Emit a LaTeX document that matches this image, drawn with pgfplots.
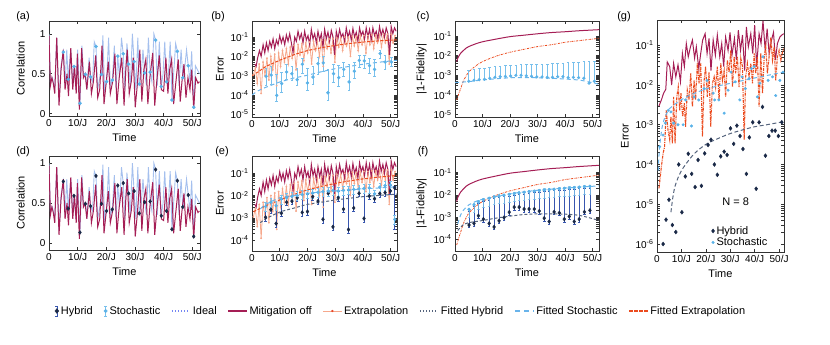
\documentclass[border=0pt]{standalone}
\usepackage{fontspec}
\setmainfont{Liberation Sans}
\usepackage{pgfplots}
\usepackage{pgfplotstable}
\pgfplotsset{compat=1.18}

\definecolor{mitig}{RGB}{165,30,85}
\definecolor{ideal}{RGB}{165,192,238}
\definecolor{stoch}{RGB}{90,178,232}
\definecolor{stochbar}{RGB}{120,192,236}
\definecolor{hybrid}{RGB}{25,40,70}
\definecolor{hybbar}{RGB}{55,85,175}
\definecolor{extrap}{RGB}{246,168,140}
\definecolor{extrapdot}{RGB}{230,70,40}
\definecolor{fitext}{RGB}{235,75,30}
\definecolor{fithyb}{RGB}{85,100,125}
\definecolor{fitsto}{RGB}{105,180,235}

% correlation, ideal evolution
\pgfplotstableread{
t v
0 1.0
0.5 0.4
1.2 0.45
2.0 0.3
2.7 0.95
3.5 0.15
4.2 0.6
5.0 0.77
5.6 0.35
6.2 0.8
6.7 0.43
7.6 0.8
8.2 0.35
8.7 0.59
9.4 0.3
10.0 0.8
10.8 0.13
11.5 0.85
12.1 0.45
12.7 0.49
13.3 0.35
14.0 0.7
14.5 0.46
15.2 0.4
15.8 0.9
16.4 0.84
17.0 0.3
17.7 0.45
18.3 0.49
18.8 0.98
19.4 0.3
20.1 0.40
20.8 0.95
21.4 0.35
22.1 0.42
22.8 0.85
23.4 0.3
24.0 0.72
24.6 0.45
25.3 0.95
25.9 0.75
26.5 0.3
27.2 0.88
27.8 0.62
28.4 0.35
29.1 1.0
29.7 0.65
30.3 0.3
31.0 0.95
31.5 0.37
32.2 0.5
32.8 0.8
33.4 0.51
34.0 0.35
34.7 0.95
35.3 0.52
35.9 0.4
36.6 1.0
37.2 0.92
37.8 0.35
38.5 0.9
39.2 0.34
39.8 0.5
40.4 0.9
41.0 0.40
41.6 0.45
42.3 0.9
42.9 0.17
43.6 0.55
44.2 0.88
44.8 0.78
45.4 0.35
46.1 0.8
46.7 0.45
47.3 0.55
48.0 0.8
48.6 0.60
49.2 0.4
49.8 0.78
50.5 0.08
51.1 0.6
51.8 0.55
52.5 0.5
}\corrideal

% correlation, mitigation off
\pgfplotstableread{
t v
0 0.97
0.5 0.35
1.0 0.45
1.5 0.38
2.0 0.25
2.7 0.95
3.5 0.1
4.2 0.55
5.0 0.8
5.6 0.3
6.3 0.5
6.8 0.22
7.6 0.82
8.3 0.3
8.9 0.6
9.5 0.25
9.9 0.75
10.6 0.05
11.4 0.82
12.0 0.45
12.6 0.5
13.2 0.3
14.1 0.65
14.8 0.25
15.5 0.4
16.3 0.73
17.0 0.2
17.7 0.3
18.5 0.85
19.2 0.12
20.0 0.4
20.7 0.65
21.4 0.25
22.2 0.4
23.0 0.75
23.7 0.12
24.5 0.45
25.4 0.7
26.2 0.1
26.8 0.55
27.3 0.8
28.0 0.25
28.7 0.4
29.4 0.7
30.1 0.08
30.8 0.35
31.7 0.8
32.4 0.15
33.1 0.55
33.8 0.68
34.5 0.12
35.2 0.45
36.2 0.76
36.9 0.1
37.6 0.4
38.5 0.73
39.2 0.3
40.0 0.28
40.8 0.7
41.5 0.25
42.1 0.55
42.8 0.68
43.5 0.12
44.3 0.4
45.1 0.68
45.8 0.15
46.4 0.4
47.1 0.62
47.8 0.2
48.5 0.45
49.2 0.3
49.8 0.55
50.5 0.06
51.2 0.45
52.0 0.38
52.5 0.4
}\corroff

% correlation, sampled points
\pgfplotstableread{
t v
5.0 0.77
6.7 0.43
8.7 0.59
10.8 0.13
12.7 0.49
14.5 0.46
16.4 0.84
18.3 0.49
20.1 0.40
22.1 0.42
24.0 0.72
25.9 0.75
27.8 0.62
29.7 0.65
31.5 0.37
33.4 0.51
35.3 0.52
37.2 0.92
39.2 0.34
41.0 0.40
42.9 0.17
44.8 0.78
46.7 0.45
48.6 0.60
50.5 0.08
}\corrpts

% error, mitigation off
\pgfplotstableread{
t v
1.0 4e-3
1.5 3e-3
2.0 8e-3
2.7 2e-2
3.3 1e-2
4.0 4e-2
4.6 1.5e-2
5.2 5e-2
5.8 2e-2
6.4 6e-2
7.0 3e-2
7.6 8e-2
8.2 2.5e-2
8.8 7e-2
9.4 4e-2
10.0 1.2e-1
10.6 5e-2
11.2 1e-1
11.8 4e-2
12.4 1.3e-1
13.0 6e-2
13.6 1.5e-1
14.2 5e-2
14.8 1.6e-2
15.4 1e-1
16.0 6e-2
16.6 2e-1
17.2 8e-2
17.8 1.5e-1
18.4 5e-2
19.0 2e-1
19.6 7e-2
20.2 1.2e-1
20.8 4e-2
21.4 2.5e-1
22.0 8e-2
22.6 1.5e-1
23.2 5e-2
23.8 2e-1
24.4 7e-2
25.0 1.5e-1
25.6 3e-2
26.2 2.5e-1
26.8 8e-2
27.4 1.8e-1
28.0 6e-2
28.6 2.2e-1
29.2 1e-1
29.8 1.2e-2
30.4 2e-1
31.0 8e-2
31.6 2.5e-1
32.2 1e-1
32.8 1.5e-1
33.4 6e-2
34.0 3e-1
34.6 1e-1
35.2 2e-1
35.8 7e-2
36.4 2.8e-1
37.0 1e-1
37.6 1.8e-1
38.2 6e-2
38.8 3e-1
39.4 1.2e-1
40.0 2e-1
40.6 8e-2
41.2 3e-1
41.8 1e-1
42.4 2.5e-1
43.0 7e-2
43.6 3e-1
44.2 1.2e-1
44.8 2e-1
45.4 8e-2
46.0 3.5e-1
46.6 1.2e-1
47.2 2.5e-1
47.8 1e-1
48.4 3e-1
49.0 1.5e-1
49.6 1.2e-2
50.2 3.5e-1
50.8 1.5e-1
51.4 3e-1
52.0 2e-1
}\erroff

% error, extrapolation (raw)
\pgfplotstableread{
t v
0.5 1.1e-3
1.2 2.5e-3
1.9 4e-4
2.6 4e-3
3.3 1.2e-4
4.0 5e-3
4.7 1e-3
5.4 8e-3
6.1 6e-4
6.8 1e-2
7.5 2e-3
8.2 1.3e-2
8.9 3e-4
9.6 1.5e-2
10.3 3e-3
11.0 2e-2
11.7 5e-3
12.4 2.5e-2
13.1 4e-3
13.8 3e-2
14.5 8e-3
15.2 3.5e-2
15.9 2e-3
16.6 4e-2
17.3 1.2e-2
18.0 4.5e-2
18.7 6e-3
19.4 5e-2
20.1 1.5e-2
20.8 5.5e-2
21.5 4e-3
22.2 6e-2
22.9 2e-2
23.6 6e-2
24.3 1e-2
25.0 7e-2
25.7 3e-3
26.4 7e-2
27.1 2.5e-2
27.8 8e-2
28.5 1.5e-2
29.2 8e-2
29.9 5e-3
30.6 9e-2
31.3 3e-2
32.0 9e-2
32.7 2e-2
33.4 1e-1
34.1 3.5e-2
34.8 1e-1
35.5 1e-2
36.2 1.1e-1
36.9 3.5e-2
37.6 1.1e-1
38.3 2e-2
39.0 1.2e-1
39.7 4e-2
40.4 1.2e-1
41.1 1.5e-2
41.8 1.2e-1
42.5 4e-2
43.2 1.3e-1
43.9 2.5e-2
44.6 1.3e-1
45.3 5e-2
46.0 1.3e-1
46.7 3e-2
47.4 1.4e-1
48.1 5e-2
48.8 1.4e-1
49.5 4e-3
50.2 1.4e-1
50.9 5e-2
51.6 1.2e-1
}\errextrap

% |1-fidelity|, mitigation off
\pgfplotstableread{
t v
0.6 5e-3
1 7.5e-3
2 1.3e-2
3 1.8e-2
4 2.4e-2
5 2.9e-2
7.5 4e-2
10 5.1e-2
15 7e-2
20 9.3e-2
25 1.1e-1
30 1.3e-1
35 1.5e-1
40 1.65e-1
45 1.85e-1
52.3 2.1e-1
}\fidoff

% |1-fidelity|, extrapolation
\pgfplotstableread{
t v
0.6 5.6e-5
1 8e-5
1.5 1.3e-4
2 2e-4
3 5e-4
4 9e-4
5 1.5e-3
7.5 3e-3
10 5e-3
15 9.5e-3
20 1.5e-2
25 2.1e-2
30 2.9e-2
35 3.6e-2
40 4.8e-2
45 5.8e-2
52.3 7.6e-2
}\fidextrap

\pgfplotsset{
  panel/.style={
    scale only axis, anchor=north west,
    xmin=0, xmax=52.3,
    xtick={0,10,20,30,40,50},
    xticklabels={0,10/J,20/J,30/J,40/J,50/J},
    xlabel={Time},
    ticklabel style={font=\fontsize{10}{12}\selectfont},
    label style={font=\fontsize{11}{13}\selectfont},
    axis line style={black!80, line width=0.5pt},
    tick style={black!80, line width=0.5pt},
    major tick length=3pt,
    /pgf/number format/assume math mode=true,
  },
  errbar/.style={error bars/.cd, y dir=both, y explicit,
    error bar style={#1, line width=0.6pt},
    error mark options={rotate=90, #1, mark size=1.3pt, line width=0.6pt}},
}

\begin{document}
\begin{tikzpicture}
\path[use as bounding box] (0pt,0pt) rectangle (830pt,-345pt);

% ---------- (a)
\begin{axis}[panel, at={(49pt,-21pt)}, width=151pt, height=95pt,
  xmax=52.7, ymin=-0.03, ymax=1.16, ytick={0,0.5,1}, yticklabels={0,0.5,1},
  ylabel={Correlation}]
\addplot[ideal, line width=0.9pt] table[x=t,y=v] {\corrideal};
\addplot[mitig, line width=1pt] table[x=t,y=v] {\corroff};
\addplot[only marks, mark=*, mark size=1.6pt, stoch] table[x=t,y=v] {\corrpts};
\end{axis}

% ---------- (b)
\begin{axis}[panel, at={(252pt,-21pt)}, width=145pt, height=96pt,
  ymode=log, ymin=7.2e-6, ymax=0.68,
  ytick={1e-5,1e-4,1e-3,1e-2,1e-1},
  yticklabels={10\textsuperscript{-5},10\textsuperscript{-4},10\textsuperscript{-3},10\textsuperscript{-2},10\textsuperscript{-1}},
  ylabel={Error}]
\addplot[extrap, line width=0.8pt, mark=*, mark size=0.45pt, mark options={fill=extrapdot, draw=none}] table[x=t,y=v] {\errextrap};
\addplot[mitig, line width=1pt] table[x=t,y=v] {\erroff};
\addplot[fitext, line width=1pt, dash pattern=on 3pt off 1.5pt] coordinates {
(0,1e-3) (2,1.5e-3) (5,3e-3) (10,6.3e-3) (15,1.2e-2) (20,2e-2) (25,2.8e-2) (30,3.7e-2) (35,4.6e-2) (40,5.5e-2) (46,6.4e-2) (52.3,7.2e-2)};
\addplot[fitsto, line width=1pt, dash pattern=on 4pt off 3pt] coordinates {
(0,1e-4) (2,1.6e-4) (5,2.5e-4) (10,4.7e-4) (15,7.5e-4) (20,1.05e-3) (25,1.6e-3) (30,2.3e-3) (35,3e-3) (40,3.9e-3) (46,5e-3) (52.3,6.3e-3)};
\addplot[only marks, mark=*, mark size=1.5pt, stoch, errbar=stochbar] table[x=t,y=v,y error plus=ep,y error minus=em] {
t v ep em
5.1 9.3e-4 1.6e-3 6e-4
6.9 1.07e-3 2e-3 7e-4
8.9 9.5e-5 1.1e-3 5e-5
10.7 3.9e-4 1.1e-3 2.5e-4
12.5 1.55e-3 2.5e-3 9e-4
14.4 1.26e-3 1.7e-3 7e-4
16.3 6.2e-4 1.9e-3 3e-4
18.2 3.9e-3 4.1e-3 2.5e-3
20.0 4.2e-4 2.1e-3 2.5e-4
22.0 8.5e-4 2.2e-3 5e-4
23.8 4.2e-3 4.8e-3 3e-3
25.7 4.6e-3 5.4e-3 3e-3
27.4 1.3e-4 1.9e-3 8e-5
29.4 1.26e-3 2.7e-3 8e-4
31.3 7.9e-4 2.7e-3 5e-4
33.1 2.1e-3 2.9e-3 1.2e-3
35.0 4.7e-4 3.5e-3 3e-4
36.9 1.7e-3 3.3e-3 1e-3
38.7 6.2e-3 5.8e-3 3.5e-3
40.5 5.8e-3 5.2e-3 3.5e-3
42.4 3.3e-3 4.7e-3 2e-3
44.2 2.1e-3 4.9e-3 1.2e-3
46.2 1.4e-2 6e-3 6e-3
48.0 5.1e-3 5.9e-3 3e-3
50.3 5e-3 4e-3 2e-3
};
\end{axis}

% ---------- (c)
\begin{axis}[panel, at={(455pt,-21pt)}, width=144pt, height=96pt,
  ymode=log, ymin=7.6e-6, ymax=0.58,
  ytick={1e-5,1e-4,1e-3,1e-2,1e-1},
  yticklabels={10\textsuperscript{-5},10\textsuperscript{-4},10\textsuperscript{-3},10\textsuperscript{-2},10\textsuperscript{-1}},
  ylabel={|1-Fidelity|}]
\addplot[mitig, line width=1pt, smooth] table[x=t,y=v] {\fidoff};
\addplot[fitext, line width=0.8pt, dash pattern=on 2pt off 1pt on 0.5pt off 1pt, smooth] table[x=t,y=v] {\fidextrap};
\addplot[fitsto, line width=1pt, dash pattern=on 4pt off 3pt, smooth] coordinates {
(0,4.3e-4) (5,4.8e-4) (10,5.8e-4) (20,7.5e-4) (30,7.5e-4) (40,6.5e-4) (46,5.5e-4) (52.3,3.5e-4)};
\addplot[only marks, mark=*, mark size=1.4pt, stoch, error bars/.cd, y dir=plus, y explicit,
  error bar style={stochbar, line width=0.6pt},
  error mark options={rotate=90, stochbar, mark size=1.3pt, line width=0.6pt}]
  table[x=t,y=v,y error plus=ep] {
t v ep
5.0 5.0e-4 1.28e-3
6.9 5.6e-4 1.44e-3
8.8 6.0e-4 1.64e-3
10.7 6.3e-4 1.77e-3
12.6 7.1e-4 1.92e-3
14.5 7.9e-4 2.03e-3
16.4 8.5e-4 2.15e-3
18.3 8.9e-4 2.27e-3
20.2 9.3e-4 2.37e-3
22.1 1.0e-3 2.4e-3
24.0 1.0e-3 2.5e-3
25.9 9.5e-4 2.6e-3
27.8 8.9e-4 2.66e-3
29.7 8.3e-4 2.8e-3
31.6 8.3e-4 2.9e-3
33.5 7.9e-4 3.0e-3
35.4 7.9e-4 3.2e-3
37.3 8.5e-4 3.15e-3
39.2 8.5e-4 3.35e-3
41.1 7.6e-4 3.6e-3
43.0 7.9e-4 3.7e-3
44.9 7.6e-4 3.9e-3
46.8 7.1e-4 4.3e-3
48.7 4.0e-4 4.6e-3
50.6 5.0e-4 4.7e-3
};
\end{axis}

% ---------- (d)
\begin{axis}[panel, at={(49pt,-156pt)}, width=151pt, height=94pt,
  xmax=52.7, ymin=-0.09, ymax=1.09, ytick={0,0.5,1}, yticklabels={0,0.5,1},
  ylabel={Correlation}]
\addplot[ideal, line width=0.9pt] table[x=t,y=v] {\corrideal};
\addplot[mitig, line width=1pt] table[x=t,y=v] {\corroff};
\addplot[only marks, mark=diamond*, mark size=1.9pt, hybrid] table[x=t,y=v] {\corrpts};
\end{axis}

% ---------- (e)
\begin{axis}[panel, at={(252pt,-156pt)}, width=145pt, height=95pt,
  ymode=log, ymin=3.2e-5, ymax=0.6,
  ytick={1e-4,1e-3,1e-2,1e-1},
  yticklabels={10\textsuperscript{-4},10\textsuperscript{-3},10\textsuperscript{-2},10\textsuperscript{-1}},
  ylabel={Error}]
\addplot[extrap, line width=0.8pt, mark=*, mark size=0.45pt, mark options={fill=extrapdot, draw=none}] table[x=t,y=v] {\errextrap};
\addplot[mitig, line width=1pt] table[x=t,y=v] {\erroff};
\addplot[fitext, line width=1pt, dash pattern=on 3pt off 1.5pt] coordinates {
(0.5,1.9e-3) (2,2.3e-3) (5,3.5e-3) (10,6.3e-3) (15,1.1e-2) (20,1.8e-2) (25,2.6e-2) (30,3.5e-2) (35,4.5e-2) (40,5.6e-2) (46,6.8e-2) (52.3,8e-2)};
\addplot[only marks, mark=diamond*, mark size=1.9pt, hybrid, errbar=hybbar] table[x=t,y=v,y error plus=ep,y error minus=em] {
t v ep em
4.9 1.05e-3 2.1e-3 3.2e-4
6.8 2.3e-3 2.7e-3 7e-4
8.7 5.5e-4 2.9e-3 1.7e-4
10.6 1.6e-3 5.4e-3 4.8e-4
12.5 5e-3 3e-3 1.5e-3
14.4 5.6e-3 3.4e-3 1.7e-3
16.3 7.9e-3 2.1e-3 2.4e-3
18.1 1.74e-3 9.3e-3 5.2e-4
20.0 1.9e-3 1e-2 5.7e-4
21.9 8.9e-3 4.1e-3 2.7e-3
23.8 5.6e-3 8.4e-3 1.7e-3
25.6 8.5e-4 1.4e-2 2.6e-4
27.5 1.26e-2 3.4e-3 3.8e-3
29.2 3.9e-4 1.66e-2 1.2e-4
31.1 7.9e-3 8.1e-3 2.4e-3
33.0 2.45e-3 1.45e-2 7.4e-4
34.8 2.95e-4 1.77e-2 8.9e-5
36.7 2.75e-3 1.6e-2 8.3e-4
38.6 1.26e-2 7.4e-3 3.8e-3
40.4 9.3e-4 2e-2 2.8e-4
42.3 9.5e-3 1.25e-2 2.9e-3
44.2 7.2e-3 4.8e-3 2.2e-3
46.1 1.23e-2 1.2e-2 3.7e-3
48.0 1.35e-2 1.45e-2 4e-3
49.9 1.6e-2 1.4e-2 4.8e-3
51.5 2.2e-2 5e-3 2.17e-2
};
\addplot[only marks, mark=*, mark size=1.5pt, stoch, errbar=stochbar] table[x=t,y=v,y error plus=ep,y error minus=em] {
t v ep em
4.9 3.2e-3 1.6e-3 1.3e-3
6.8 5e-3 2.5e-3 2e-3
8.7 3.5e-3 1.8e-3 1.4e-3
10.6 7e-3 3.5e-3 2.8e-3
12.5 8e-3 4e-3 3.2e-3
14.4 9e-3 4.5e-3 3.6e-3
16.3 1e-2 5e-3 4e-3
18.1 1.1e-2 5.5e-3 4.4e-3
20.0 1.2e-2 6e-3 4.8e-3
21.9 1.3e-2 6.5e-3 5.2e-3
23.8 1.4e-2 7e-3 5.6e-3
25.6 1.5e-2 7.5e-3 6e-3
27.5 1.6e-2 8e-3 6.4e-3
29.2 1.7e-2 8.5e-3 6.8e-3
31.1 1.6e-2 8e-3 6.4e-3
33.0 1.7e-2 8.5e-3 6.8e-3
34.8 1.8e-2 9e-3 7.2e-3
36.7 1.9e-2 9.5e-3 7.6e-3
38.6 2e-2 1e-2 8e-3
40.4 2.1e-2 1.05e-2 8.4e-3
42.3 2.2e-2 1.1e-2 8.8e-3
44.2 1.2e-2 6e-3 4.8e-3
46.1 2.4e-2 1.2e-2 9.6e-3
48.0 2.8e-2 1.4e-2 1.1e-2
49.9 3e-2 1.5e-2 1.2e-2
51.5 8.5e-4 4e-4 3.4e-4
};
\addplot[fithyb, line width=1pt, dash pattern=on 3pt off 2pt, smooth] coordinates {
(3,6e-4) (5,9e-4) (10,1.8e-3) (15,2.7e-3) (20,4e-3) (25,5e-3) (30,6.3e-3) (35,7.5e-3) (40,8.9e-3) (45,1e-2) (52.3,1.15e-2)};
\addplot[fitsto, line width=1pt, dash pattern=on 4pt off 3pt, smooth] coordinates {
(3,2.5e-3) (5,4e-3) (10,7.9e-3) (15,1e-2) (20,1.25e-2) (25,1.45e-2) (30,1.6e-2) (35,1.75e-2) (40,2e-2) (46,2.2e-2) (52.3,2.5e-2)};
\end{axis}

% ---------- (f)
\begin{axis}[panel, at={(455pt,-156pt)}, width=144pt, height=95pt,
  ymode=log, ymin=3e-5, ymax=0.55,
  ytick={1e-4,1e-3,1e-2,1e-1},
  yticklabels={10\textsuperscript{-4},10\textsuperscript{-3},10\textsuperscript{-2},10\textsuperscript{-1}},
  ylabel={|1-Fidelity|}]
\addplot[mitig, line width=1pt, smooth] table[x=t,y=v] {\fidoff};
\addplot[fitext, line width=0.8pt, dash pattern=on 2pt off 1pt on 0.5pt off 1pt, smooth] table[x=t,y=v] {\fidextrap};
\addplot[only marks, mark=diamond*, mark size=1.9pt, hybrid, error bars/.cd, y dir=both, y explicit,
  error bar style={hybbar, line width=0.7pt},
  error mark options={rotate=90, hybbar, mark size=1.3pt, line width=0.6pt}]
  table[x=t,y=v,y error plus=ep,y error minus=em] {
t v ep em
5.1 4.4e-4 1.43e-3 1.1e-4
6.9 5.2e-4 2.46e-3 1.3e-4
8.5 1.15e-3 2.93e-3 2.9e-4
10.3 8.1e-4 4.3e-3 2e-4
12.4 5.2e-4 5.4e-3 1.3e-4
14.2 3.6e-4 6.4e-3 9e-5
16.0 6.8e-4 6.8e-3 1.7e-4
17.8 9.5e-4 7.2e-3 2.4e-4
19.7 1.66e-3 7.2e-3 4.2e-4
21.5 2.8e-3 6.7e-3 7e-4
23.3 2.8e-3 7.4e-3 7e-4
25.1 2.3e-3 8.7e-3 5.8e-4
26.9 2.3e-3 9.4e-3 5.8e-4
28.8 2.3e-3 1e-2 5.8e-4
30.6 1.86e-3 1.13e-2 4.7e-4
32.4 8.9e-4 1.29e-2 2.2e-4
34.2 6.3e-4 1.39e-2 1.6e-4
36.0 1.7e-3 1.34e-2 4.3e-4
37.9 1.55e-3 1.42e-2 3.9e-4
39.7 8.1e-4 1.58e-2 2e-4
41.5 1.07e-3 1.59e-2 2.7e-4
43.3 6.3e-4 1.73e-2 1.6e-4
45.1 8.1e-4 1.79e-2 2e-4
47.0 1.7e-3 1.79e-2 4.3e-4
49.0 2e-3 1.84e-2 5e-4
};
\addplot[only marks, mark=*, mark size=1.5pt, stoch, error bars/.cd, y dir=both, y explicit,
  error bar style={stochbar, line width=0.8pt, opacity=0.8},
  error mark options={rotate=90, stochbar, mark size=1.3pt, line width=0.6pt}]
  table[x=t,y=v,y error plus=ep,y error minus=em] {
t v ep em
5.1 2.2e-3 3e-4 1.2e-3
6.9 3.5e-3 5e-4 1.9e-3
8.5 4.8e-3 7e-4 2.6e-3
10.3 6e-3 9e-4 3.3e-3
12.4 7e-3 1e-3 3.9e-3
14.2 8e-3 1.2e-3 4.4e-3
16.0 8.8e-3 1.3e-3 4.8e-3
17.8 9.6e-3 1.4e-3 5.3e-3
19.7 1.05e-2 1.6e-3 5.8e-3
21.5 1.12e-2 1.7e-3 6.2e-3
23.3 1.2e-2 1.8e-3 6.6e-3
25.1 1.3e-2 2e-3 7.2e-3
26.9 1.38e-2 2.1e-3 7.6e-3
28.8 1.45e-2 2.2e-3 8e-3
30.6 1.55e-2 2.3e-3 8.5e-3
32.4 1.62e-2 2.4e-3 8.9e-3
34.2 1.7e-2 2.6e-3 9.4e-3
36.0 1.78e-2 2.7e-3 9.8e-3
37.9 1.85e-2 2.8e-3 1.02e-2
39.7 1.95e-2 2.9e-3 1.07e-2
41.5 2e-2 3e-3 1.1e-2
43.3 2.1e-2 3.2e-3 1.16e-2
45.1 2.2e-2 3.3e-3 1.21e-2
47.0 2.3e-2 3.5e-3 1.27e-2
49.0 2.4e-2 3.6e-3 1.32e-2
};
\addplot[fithyb, line width=1pt, dash pattern=on 3pt off 2pt, smooth] coordinates {
(1,2.5e-4) (2,3.5e-4) (3,4.5e-4) (5,5.6e-4) (10,7e-4) (15,9e-4) (20,1.1e-3) (25,1.3e-3) (30,1.4e-3) (35,1.4e-3) (40,1.35e-3) (45,1.2e-3) (50,8.5e-4) (52.3,7e-4)};
\addplot[fitsto, line width=1pt, dash pattern=on 4pt off 3pt, smooth] coordinates {
(1,5e-4) (2,1.2e-3) (3,2e-3) (5,3.5e-3) (7.5,5e-3) (10,6.3e-3) (15,8.5e-3) (20,1.1e-2) (25,1.35e-2) (30,1.6e-2) (35,1.8e-2) (40,2e-2) (46,2.25e-2) (52.3,2.5e-2)};
\end{axis}

% ---------- (g)
\begin{axis}[panel, at={(657pt,-20pt)}, width=127pt, height=232pt, xmax=52,
  ymode=log, ymin=6.3e-7, ymax=0.43,
  ytick={1e-6,1e-5,1e-4,1e-3,1e-2,1e-1},
  yticklabels={10\textsuperscript{-6},10\textsuperscript{-5},10\textsuperscript{-4},10\textsuperscript{-3},10\textsuperscript{-2},10\textsuperscript{-1}},
  ylabel={Error}, reverse legend,
  legend style={at={(0.42,0.125)}, anchor=north west, draw=none, fill=none,
    font=\fontsize{11}{13}\selectfont, row sep=-2pt, inner sep=1pt},
  legend cell align=left]
\addplot[forget plot, mitig, line width=1pt] coordinates {
(0.8,2.95e-3) (1.8,4.2e-3) (2.7,6.2e-3) (3.6,7.8e-3) (4.2,3.8e-2) (5.2,2.9e-2) (6.0,1e-2) (6.8,3.5e-2) (7.7,1.6e-2) (8.6,3.2e-2) (9.6,1.2e-2) (10.4,6.2e-2) (11.2,2.9e-2) (12.0,1.1e-1) (12.8,5.1e-2) (13.7,9.1e-2) (14.5,1.35e-1) (15.4,4.7e-2) (16.1,9.1e-2) (17.1,2.6e-2) (17.9,6.2e-2) (18.7,1.35e-1) (19.7,1.95e-1) (20.5,6.2e-2) (21.3,1.48e-1) (22.1,2.3e-2) (23.0,1.35e-1) (23.9,5.6e-2) (24.7,1.8e-1) (25.7,5.1e-2) (26.5,1.1e-1) (27.3,2.9e-2) (28.1,1.6e-1) (29.1,7.4e-2) (29.9,2.1e-1) (30.7,5.6e-2) (31.7,1.48e-1) (32.5,4.2e-2) (33.3,2.4e-1) (34.2,7.4e-2) (35.0,1.8e-1) (35.9,2.3e-2) (36.6,2.9e-1) (37.4,9.1e-2) (38.4,1.95e-1) (39.2,6.2e-2) (40.0,3.2e-1) (40.8,2.9e-2) (41.8,1.95e-1) (42.6,1.1e-1) (43.4,4.1e-1) (44.3,7.4e-2) (45.1,2.6e-1) (45.9,6.2e-2) (46.9,1.35e-1) (47.7,2.1e-1) (48.5,4.2e-2) (49.3,1.1e-1) (50.3,1.6e-1) (51.1,1.8e-1) (51.9,1.95e-1)};
\addplot[forget plot, fitext, line width=1.1pt, dash pattern=on 3pt off 1pt on 1pt off 1pt] coordinates {
(0.8,2.5e-5) (1.8,8.9e-5) (2.5,1.9e-4) (3.1,2.8e-4) (3.8,2.3e-3) (4.5,7.4e-4) (5.2,4.2e-4) (5.7,1.6e-3) (6.3,3.4e-4) (6.8,5e-3) (7.4,3.4e-4) (8.1,5e-3) (8.7,8.9e-3) (9.3,2.3e-3) (9.8,6.2e-3) (10.5,1.6e-3) (11.2,3.5e-3) (11.7,8.9e-4) (12.4,7.4e-3) (13.1,4.2e-3) (13.8,1.95e-2) (14.5,2.8e-3) (15.2,1.3e-2) (15.8,4.2e-3) (16.5,3.5e-2) (17.2,1.1e-2) (17.9,3.5e-2) (18.6,5e-4) (19.3,1.3e-2) (19.9,2.9e-2) (20.6,5e-3) (21.3,2.1e-2) (22.0,8.9e-4) (22.7,1.1e-2) (23.4,1.6e-2) (24.0,8.9e-3) (24.7,2.9e-2) (25.4,4.2e-3) (26.1,3.5e-2) (26.8,1.3e-2) (27.5,2.3e-2) (28.1,5e-3) (28.8,4.2e-2) (29.5,2.1e-2) (30.2,7.4e-2) (30.9,8.9e-3) (31.6,5.1e-2) (32.2,1.95e-2) (32.9,5.1e-2) (33.6,8.9e-3) (34.3,4.7e-2) (35.0,2.9e-2) (35.7,4.2e-4) (36.3,1.6e-2) (37.0,3.5e-2) (37.7,1.6e-2) (38.4,3.5e-2) (39.1,1.1e-2) (39.8,6.2e-2) (40.4,1.95e-2) (41.1,5.1e-2) (41.8,2.8e-3) (42.5,6.2e-2) (43.2,6.2e-3) (43.9,5.1e-2) (44.5,9.1e-2) (45.2,1.95e-2) (45.9,5.1e-2) (46.6,1.6e-1) (47.3,4.2e-2) (48.0,9.1e-2) (48.6,1.3e-2) (49.3,5.1e-2) (50.0,7.4e-2) (50.7,4.2e-2) (51.4,6.8e-2) (52.0,8.3e-2)};
\addplot[forget plot, fitsto, line width=1pt, dash pattern=on 4pt off 3pt, smooth] coordinates {
(0.5,7e-5) (1,2.5e-4) (2,8e-4) (3,1.4e-3) (5,2.5e-3) (8,3.5e-3) (12,5e-3) (20,7.9e-3) (30,1.1e-2) (40,1.5e-2) (52,2.1e-2)};
\addplot[forget plot, fithyb, line width=1pt, dash pattern=on 4pt off 2.5pt, smooth] coordinates {
(5.7,6.3e-6) (6.5,1.5e-5) (7.5,3e-5) (10,7e-5) (15,1.8e-4) (20,3.2e-4) (25,4.5e-4) (30,6e-4) (35,7.4e-4) (40,8.9e-4) (45,1e-3) (52,1.2e-3)};
\addplot[only marks, mark=*, mark size=1.3pt, stoch] coordinates {
(1.1,2.8e-4) (2.5,5.5e-4) (3.4,1.1e-3) (4.6,2.3e-3) (5.7,2.1e-3) (6.8,1.1e-3) (8.6,1e-3) (10.7,1e-3) (11.7,4.2e-3) (14.1,9.3e-4) (15.2,5e-3) (17.1,4.2e-3) (19.3,8.1e-3) (20.5,1.3e-2) (23.0,6.2e-3) (23.6,4.2e-3) (25.3,4.2e-3) (27.5,1.95e-3) (29.1,7.4e-3) (30.3,2.1e-2) (32.0,1.2e-2) (33.9,4.2e-3) (34.8,1.6e-2) (36.2,8.1e-3) (37.7,1.45e-2) (38.7,2.6e-2) (39.8,2.9e-2) (41.1,5e-3) (42.1,1.1e-2) (43.4,5.1e-2) (45.5,1.3e-2) (47.3,1.6e-2) (48.6,5.4e-3) (50.3,1.3e-2) (51.6,2.1e-2)};
\addlegendentry{Stochastic}
\addplot[only marks, mark=diamond*, mark size=2pt, hybrid] coordinates {
(2.5,1e-6) (3.7,4.1e-6) (4.9,1.3e-5) (6.3,3e-6) (7.7,2e-6) (8.9,1e-4) (10.2,6.3e-6) (11.6,5e-5) (12.8,1.86e-4) (14.2,5.8e-5) (15.6,2.7e-5) (16.8,1.3e-4) (18.2,2.9e-5) (19.5,1.9e-4) (20.9,3.1e-4) (22.1,4.2e-4) (23.5,1e-4) (24.7,5.5e-5) (26.1,1.6e-4) (27.5,2.1e-4) (28.7,1.74e-4) (30.1,8.1e-4) (31.4,3.3e-4) (32.7,9.5e-4) (34.0,5.2e-4) (35.2,2.45e-4) (36.6,5.8e-5) (37.8,4.8e-4) (39.2,1.15e-3) (40.6,2.45e-5) (41.8,1.15e-3) (43.2,2.8e-3) (44.4,1.66e-4) (45.8,5.2e-4) (47.1,7.1e-4) (48.4,7.1e-4) (49.7,5.2e-4) (51.1,1.15e-3)};
\addlegendentry{Hybrid}
\node[font=\fontsize{11}{13}\selectfont] at (rel axis cs:0.62,0.215) {N = 8};
\end{axis}

% ---------- legend row
\begin{axis}[at={(401pt,-311pt)}, anchor=center, hide axis, scale only axis,
  width=10pt, height=10pt, xmin=0, xmax=1, ymin=0, ymax=1,
  legend columns=-1,
  legend style={at={(0.5,0.5)}, anchor=center, draw=none, fill=none,
    font=\fontsize{11}{13}\selectfont,
    /tikz/every even column/.append style={column sep=9pt}}]
\addlegendimage{legend image code/.code={
  \draw[hybbar, line width=0.7pt] (0.15cm,-5pt) -- (0.15cm,5pt)
    (0.15cm-1.5pt,-5pt) -- (0.15cm+1.5pt,-5pt) (0.15cm-1.5pt,5pt) -- (0.15cm+1.5pt,5pt);
  \fill[hybrid] (0.15cm,2.4pt) -- (0.15cm+1.9pt,0pt) -- (0.15cm,-2.4pt) -- (0.15cm-1.9pt,0pt) -- cycle;}}
\addlegendentry{Hybrid}
\addlegendimage{legend image code/.code={
  \draw[stochbar, line width=0.7pt] (0.15cm,-5pt) -- (0.15cm,5pt)
    (0.15cm-1.5pt,-5pt) -- (0.15cm+1.5pt,-5pt) (0.15cm-1.5pt,5pt) -- (0.15cm+1.5pt,5pt);
  \fill[stoch] (0.15cm,0pt) circle (1.7pt);}}
\addlegendentry{Stochastic}
\addlegendimage{legend image code/.code={
  \draw[ideal!70!blue, dotted, line width=1.1pt] (0cm,0cm) -- (0.65cm,0cm);}}
\addlegendentry{Ideal}
\addlegendimage{legend image code/.code={
  \draw[mitig, line width=1.3pt] (0cm,0cm) -- (0.65cm,0cm);}}
\addlegendentry{Mitigation off}
\addlegendimage{legend image code/.code={
  \draw[extrap, line width=0.9pt] (0cm,0cm) -- (0.65cm,0cm);
  \fill[extrapdot] (0.325cm,0cm) circle (0.9pt);}}
\addlegendentry{Extrapolation}
\addlegendimage{legend image code/.code={
  \draw[fithyb, dotted, line width=1.1pt] (0cm,0cm) -- (0.65cm,0cm);}}
\addlegendentry{Fitted Hybrid}
\addlegendimage{legend image code/.code={
  \draw[fitsto, dash pattern=on 5pt off 4pt, line width=1.6pt] (0cm,0cm) -- (0.65cm,0cm);}}
\addlegendentry{Fitted Stochastic}
\addlegendimage{legend image code/.code={
  \draw[fitext, dash pattern=on 3.5pt off 1.5pt, line width=1.3pt] (0cm,0cm) -- (0.65cm,0cm);}}
\addlegendentry{Fitted Extrapolation}
\end{axis}

% panel letters
\node[font=\fontsize{11}{13}\selectfont] at (23pt,-17pt) {(a)};
\node[font=\fontsize{11}{13}\selectfont] at (218pt,-17pt) {(b)};
\node[font=\fontsize{11}{13}\selectfont] at (423pt,-17pt) {(c)};
\node[font=\fontsize{11}{13}\selectfont] at (624pt,-17pt) {(g)};
\node[font=\fontsize{11}{13}\selectfont] at (23pt,-152pt) {(d)};
\node[font=\fontsize{11}{13}\selectfont] at (222pt,-152pt) {(e)};
\node[font=\fontsize{11}{13}\selectfont] at (423pt,-152pt) {(f)};
\end{tikzpicture}
\end{document}
